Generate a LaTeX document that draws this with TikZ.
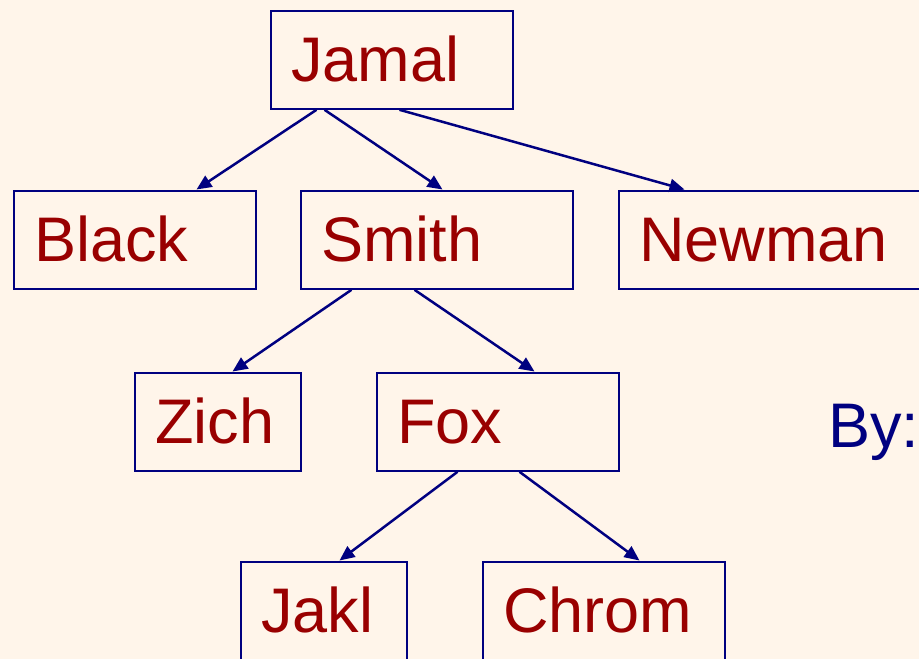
\documentclass[tikz,border=0pt]{standalone}
\usepackage{fontspec}
\setmainfont{Liberation Sans}
\usetikzlibrary{arrows.meta,calc}
\definecolor{paper}{HTML}{FFF5EA}
\definecolor{navyline}{HTML}{000080}
\definecolor{namered}{HTML}{990000}
\begin{document}
\begin{tikzpicture}[x=1pt,y=-1pt,
  person/.style={draw=navyline, line width=2.3pt, rectangle, anchor=north west,
    inner xsep=20.5pt, inner ysep=11pt, text height=60pt, text depth=16pt,
    align=left, text=namered, font=\fontsize{63}{63}\selectfont},
  link/.style={draw=navyline, line width=2.5pt, -{Triangle[length=15pt,width=13pt]}}]
  \fill[paper] (0,0) rectangle (919,659);
  \useasboundingbox (0,0) rectangle (919,659);

  % family tree boxes
  \node[person, text width=201pt] (jamal)  at (269.5,9.5)   {Jamal};
  \node[person, text width=201pt] (black)  at (12.5,189.5)  {Black};
  \node[person, text width=231pt] (smith)  at (299.5,189.5) {Smith};
  \node[person, text width=289pt] (newman) at (617.5,189.5) {Newman};
  \node[person, text width=125pt] (zich)   at (133.5,371.5) {Zich};
  \node[person, text width=201pt] (fox)    at (375.5,371.5) {Fox};
  \node[person, text width=125pt] (jakl)   at (239.5,560.5) {Jakl};
  \node[person, text width=201pt] (chrom)  at (481.5,560.5) {Chrom};

  \node[anchor=base west, inner sep=0pt, text=navyline,
        font=\fontsize{63}{63}\selectfont] (by) at (828,447) {By:};

  % parent -> child links
  \draw[link] ($(jamal.south west)+(47,0)$)  -- ($(black.north west)+(184,0)$);
  \draw[link] ($(jamal.south west)+(55,0)$)  -- ($(smith.north west)+(143,0)$);
  \draw[link] ($(jamal.south west)+(130,0)$) -- ($(newman.north west)+(67,0)$);
  \draw[link] ($(smith.south west)+(52,0)$)  -- ($(zich.north west)+(99,0)$);
  \draw[link] ($(smith.south west)+(115,0)$) -- ($(fox.north west)+(159,0)$);
  \draw[link] ($(fox.south west)+(82,0)$)    -- ($(jakl.north west)+(100,0)$);
  \draw[link] ($(fox.south west)+(144,0)$)   -- ($(chrom.north west)+(158,0)$);
\end{tikzpicture}
\end{document}
